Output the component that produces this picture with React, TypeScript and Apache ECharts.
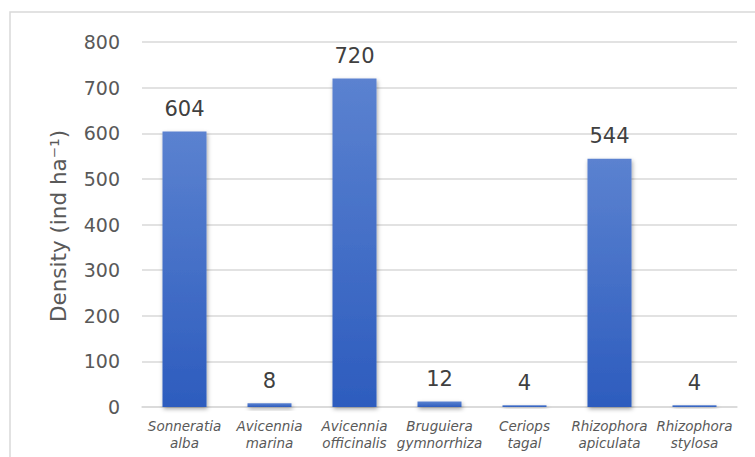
import React, { useEffect, useRef } from "react";
import * as echarts from "echarts";

const categories = [
  "Sonneratia\nalba",
  "Avicennia\nmarina",
  "Avicennia\nofficinalis",
  "Bruguiera\ngymnorrhiza",
  "Ceriops\ntagal",
  "Rhizophora\napiculata",
  "Rhizophora\nstylosa",
];
const densityValues = [604, 8, 720, 12, 4, 544, 4];
const yAxisTitle = "Density (ind ha⁻¹)";

export default function App() {
  const ref = useRef<HTMLDivElement>(null);
  useEffect(() => {
    if (!ref.current) return;
    const chart = echarts.init(ref.current, null, { renderer: "svg" });
    const font = "'DejaVu Sans', Verdana, sans-serif";
    chart.setOption({
      animation: false,
      backgroundColor: "#ffffff",
      grid: { left: 142, right: 18, top: 42, bottom: 50, containLabel: false },
      graphic: [
        {
          type: "rect",
          shape: { x: 10, y: 12, width: 800, height: 500 },
          style: { fill: "none", stroke: "#d9d9d9", lineWidth: 1.5 },
          silent: true,
          z: -1,
        },
        {
          type: "text",
          x: 58,
          y: 226,
          rotation: Math.PI / 2,
          style: {
            text: yAxisTitle,
            font: `21.5px ${font}`,
            fill: "#595959",
            align: "center",
            verticalAlign: "middle",
          },
        },
      ],
      xAxis: {
        type: "category",
        data: categories,
        axisLine: { show: true, lineStyle: { color: "#d9d9d9", width: 1.5 } },
        axisTick: { show: false },
        axisLabel: {
          interval: 0,
          fontFamily: font,
          fontStyle: "italic",
          fontSize: 13.5,
          color: "#595959",
          lineHeight: 17,
          margin: 10,
        },
      },
      yAxis: {
        type: "value",
        min: 0,
        max: 800,
        interval: 100,
        axisLine: { show: false },
        axisTick: { show: false },
        splitLine: { lineStyle: { color: "#d9d9d9", width: 1.5 } },
        axisLabel: {
          fontFamily: font,
          fontSize: 19,
          color: "#595959",
          margin: 22,
        },
      },
      series: [
        {
          type: "bar",
          data: densityValues,
          barWidth: 44,
          itemStyle: {
            color: new echarts.graphic.LinearGradient(0, 0, 0, 1, [
              { offset: 0, color: "#5b82d0" },
              { offset: 1, color: "#2d5cbe" },
            ]),
            shadowColor: "rgba(0,0,0,0.35)",
            shadowBlur: 4,
            shadowOffsetX: 1,
            shadowOffsetY: 2,
          },
          label: {
            show: true,
            position: "top",
            distance: 12,
            fontFamily: font,
            fontSize: 21,
            color: "#404040",
          },
        },
      ],
    });
    return () => chart.dispose();
  }, []);
  return <div ref={ref} style={{ width: 755, height: 457, position: "absolute", left: 0, top: 0 }} />;
}
